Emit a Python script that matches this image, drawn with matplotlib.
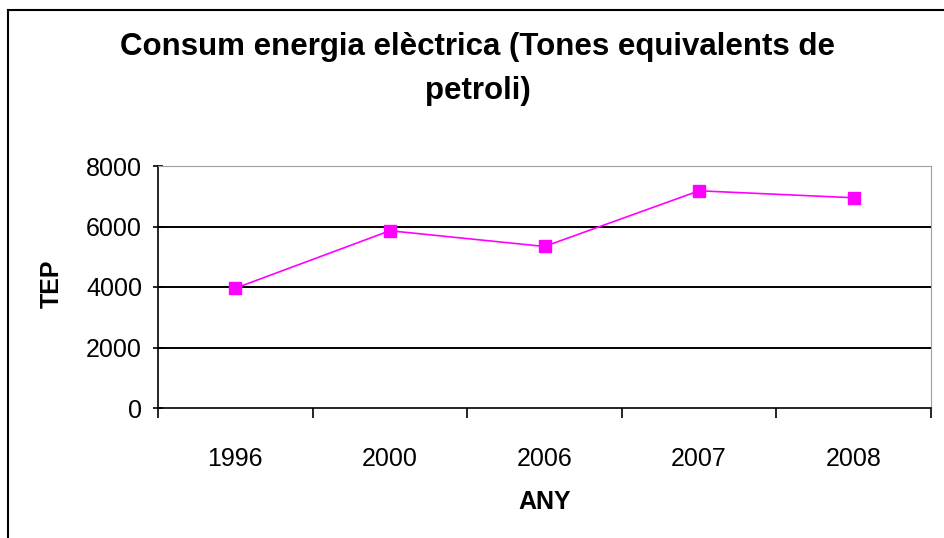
import matplotlib
matplotlib.use("Agg")
import matplotlib.pyplot as plt
from matplotlib.patches import Rectangle

years = ["1996", "2000", "2006", "2007", "2008"]
tep = [3960, 5860, 5340, 7180, 6950]
y_ticks = [0, 2000, 4000, 6000, 8000]

plt.rcParams['font.family'] = ['Liberation Sans', 'DejaVu Sans']

fig = plt.figure(figsize=(9.44, 5.38), dpi=100)
ax = fig.add_axes([158 / 944, 1 - 408 / 538, 773 / 944, 242 / 538])

# outer chart frame
fig.patches.append(Rectangle((7.5 / 944, -0.05), 1.1, 1 - 10 / 538 + 0.05,
                             transform=fig.transFigure, fill=False,
                             edgecolor="black", linewidth=1.5))

x = list(range(1, len(years) + 1))
ax.plot(x, tep, color="#FF00FF", linewidth=1.2, marker="s", markersize=8,
        markeredgecolor="#FF00FF", zorder=3)

ax.set_xlim(0.5, len(years) + 0.5)
ax.set_ylim(0, 8000)
ax.set_yticks(y_ticks)
ax.set_yticklabels([str(v) for v in y_ticks])
ax.set_xticks([i + 0.5 for i in range(len(years) + 1)])
ax.set_xticklabels([])
ax.set_xticks(x, minor=True)
ax.set_xticklabels(years, minor=True)
ax.tick_params(axis="x", which="major", direction="out", length=7, width=1.2)
ax.tick_params(axis="x", which="minor", length=0, labelsize=18, pad=28)
ax.tick_params(axis="y", direction="inout", length=7, width=1.2, labelsize=18, pad=8)

for v in y_ticks[1:]:
    ax.axhline(v, color="black", linewidth=1.4, zorder=1)

for s in ["top", "right"]:
    ax.spines[s].set_color("#A0A0A0")
for s in ["left", "bottom"]:
    ax.spines[s].set_linewidth(1.2)

fig.text(478 / 944, 1 - 47 / 538, "Consum energia elèctrica (Tones equivalents de",
         ha="center", va="center", fontsize=22.5, fontweight="bold")
fig.text(478 / 944, 1 - 91 / 538, "petroli)",
         ha="center", va="center", fontsize=22.5, fontweight="bold")
fig.text(52 / 944, 1 - 284 / 538, "TEP", rotation=90, ha="center", va="center",
         fontsize=18, fontweight="bold")
fig.text(545 / 944, 1 - 502 / 538, "ANY", ha="center", va="center",
         fontsize=18, fontweight="bold")

fig.savefig("out.png", dpi=100)
